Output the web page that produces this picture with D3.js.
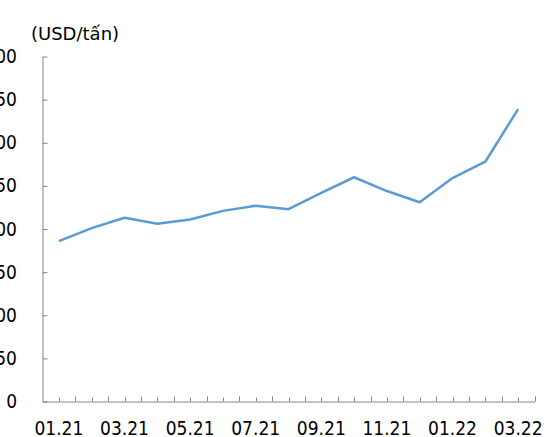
<!DOCTYPE html>
<html>
<head>
<meta charset="utf-8">
<script src="https://cdn.jsdelivr.net/npm/d3@7"></script>
<style>
  body { margin: 0; background: #fff; }
  svg text { font-family: "DejaVu Sans Condensed", "DejaVu Sans", sans-serif; fill: #000; }
</style>
</head>
<body>
<div id="chart"></div>
<script>
const months = ["01.21", "02.21", "03.21", "04.21", "05.21", "06.21", "07.21", "08.21",
    "09.21", "10.21", "11.21", "12.21", "01.22", "02.22", "03.22"];
const prices = [186, 201, 213, 206, 211, 221, 227, 223, 242, 260, 244, 231, 259, 278, 339];
const yTicks = [0, 50, 100, 150, 200, 250, 300, 350, 400];
const unitLabel = "(USD/tấn)";

const width = 544, height = 437;
const plotLeft = 42.5, plotRight = 534.5, plotTop = 56.5, plotBottom = 401.5;
const axisColor = "#868686";

const svg = d3.select("#chart").append("svg")
    .attr("width", width)
    .attr("height", height);

const x = d3.scaleBand()
    .domain(months)
    .range([plotLeft, plotRight])
    .padding(0);

const y = d3.scaleLinear()
    .domain([0, 400])
    .range([plotBottom, plotTop]);

// y axis, ticks pointing inward
const yAxis = svg.append("g")
    .attr("transform", `translate(${plotLeft},0)`)
    .call(d3.axisLeft(y).tickValues(yTicks).tickSizeInner(-5).tickSizeOuter(0).tickPadding(25.5));
yAxis.select(".domain").attr("stroke", axisColor);
yAxis.selectAll(".tick line").attr("stroke", axisColor);
yAxis.selectAll("text").style("font-size", "19px").attr("fill", "#000");

// x axis: labels every two months
const xAxis = svg.append("g")
    .attr("transform", `translate(0,${plotBottom})`)
    .call(d3.axisBottom(x).tickValues(months.filter((d, i) => i % 2 === 0)).tickSize(0).tickPadding(20));
xAxis.select(".domain").attr("stroke", axisColor);
xAxis.selectAll("text").style("font-size", "19px").attr("fill", "#000");

// minor ticks at band edges and band centres
const edges = months.map(m => x(m)).concat([x.range()[1]]);
const centres = months.map(m => x(m) + x.bandwidth() / 2);
svg.append("g").selectAll("line.edge")
    .data(edges.slice(1))
    .join("line")
    .attr("x1", d => Math.round(d) + 0.5).attr("x2", d => Math.round(d) + 0.5)
    .attr("y1", plotBottom).attr("y2", plotBottom - 5)
    .attr("stroke", axisColor);
svg.append("g").selectAll("line.centre")
    .data(centres)
    .join("line")
    .attr("x1", d => Math.round(d) + 0.5).attr("x2", d => Math.round(d) + 0.5)
    .attr("y1", plotBottom).attr("y2", plotBottom - 4)
    .attr("stroke", axisColor);

// unit label
svg.append("text")
    .attr("x", 31)
    .attr("y", 40)
    .style("font-family", "'DejaVu Sans', sans-serif")
    .style("font-size", "18px")
    .text(unitLabel);

// price line
const line = d3.line()
    .x((d, i) => x(months[i]) + x.bandwidth() / 2)
    .y(d => y(d));

svg.append("path")
    .datum(prices)
    .attr("d", line)
    .attr("fill", "none")
    .attr("stroke", "#5B9BD5")
    .attr("stroke-width", 2.5)
    .attr("stroke-linejoin", "round");
</script>
</body>
</html>
